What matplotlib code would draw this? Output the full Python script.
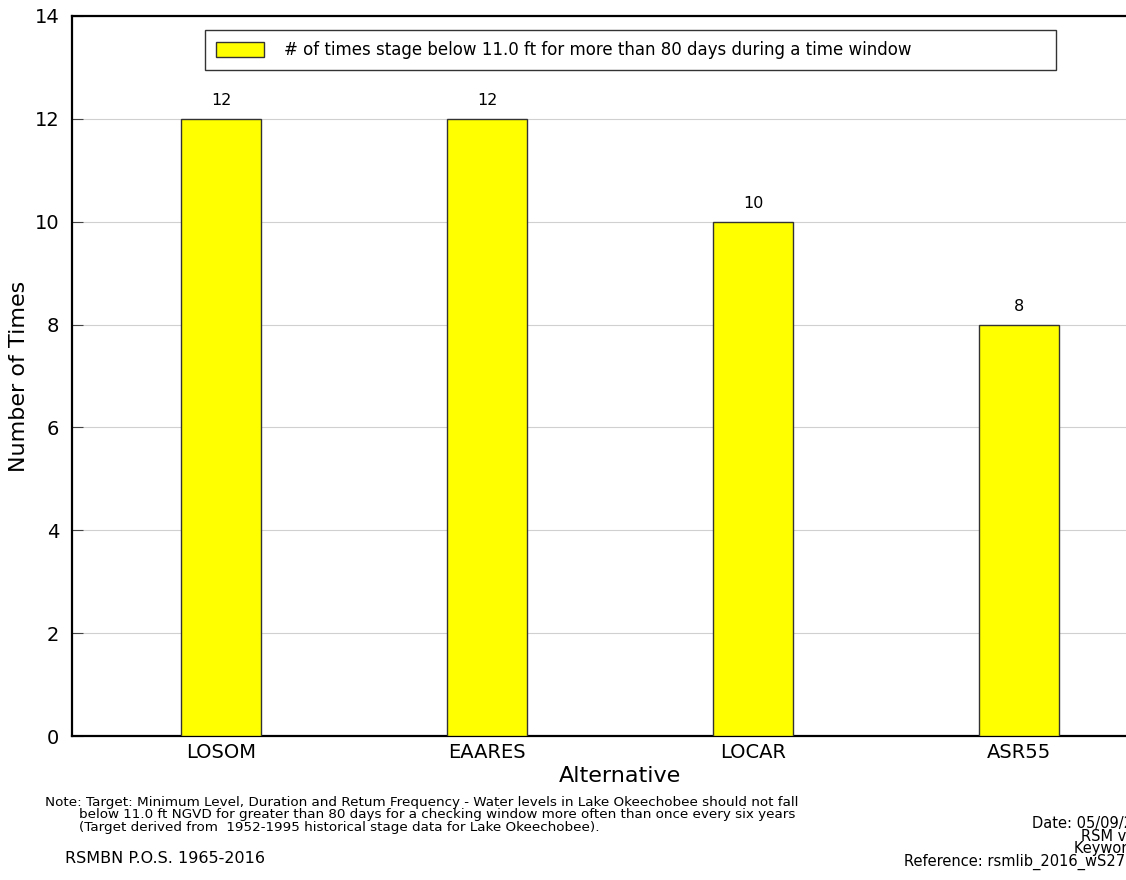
import matplotlib
matplotlib.use("Agg")
import matplotlib.pyplot as plt
import numpy as np

alternatives = ["LOSOM", "EAARES", "LOCAR", "ASR55"]
times_below = [12, 12, 10, 8]
y_ticks = [0, 2, 4, 6, 8, 10, 12, 14]

legend_label = "# of times stage below 11.0 ft for more than 80 days during a time window"
note_text = ("Note: Target: Minimum Level, Duration and Retum Frequency - Water levels in Lake Okeechobee should not fall\n"
             "        below 11.0 ft NGVD for greater than 80 days for a checking window more often than once every six years\n"
             "        (Target derived from  1952-1995 historical stage data for Lake Okeechobee).")
footer_right = "Date: 05/09/2019 14:23\nRSM v2.3.2-BN10\nKeyword: LOSOM1\nReference: rsmlib_2016_wS2713_LOK.dat"

W, H = 1126, 880
fig = plt.figure(figsize=(W / 100, H / 100), dpi=100)
# axes run past the right edge, like the cropped original
ax = fig.add_axes([72 / W, 1 - 736 / H, 1096 / W, 720 / H])

x = np.arange(len(alternatives))
bars = ax.bar(x, times_below, width=0.3, color="yellow", edgecolor="#333333",
              linewidth=1.0, label=legend_label, zorder=3)
ax.bar_label(bars, padding=7.5, fontsize=11.5)

ax.set_xlim(-0.56, 3.56)
ax.set_ylim(0, 14)
ax.set_yticks(y_ticks)
ax.set_xticks(x)
ax.set_xticklabels(alternatives)
ax.tick_params(axis="y", direction="in", length=8, color="#444444", labelsize=14, pad=9)
ax.tick_params(axis="x", length=0, labelsize=14, pad=5)
ax.yaxis.grid(True, color="#d0d0d0", linewidth=0.8, zorder=0)
ax.set_axisbelow(True)
for s in ax.spines.values():
    s.set_linewidth(1.6)

ax.set_ylabel("Number of Times", fontsize=16, labelpad=4)
ax.set_xlabel("Alternative", fontsize=16, labelpad=3)

leg = ax.legend(loc="lower left", bbox_to_anchor=(133 / 1096, 1 - 54 / 720, 851 / 1096, 40 / 720),
                mode="expand", borderaxespad=0, fontsize=12,
                fancybox=False, edgecolor="black", borderpad=0.65,
                handlelength=2.9, handleheight=1.0, handletextpad=1.2)
leg.get_frame().set_linewidth(1.0)

fig.text(45 / W, 1 - 796 / H, note_text, fontsize=9.7, va="top", linespacing=0.94)
fig.text(65 / W, 1 - 858 / H, "RSMBN P.O.S. 1965-2016", fontsize=11.5, va="center")
fig.text(1208 / W, 1 - 870 / H, footer_right, fontsize=10.5, ha="right", va="bottom",
         multialignment="right", linespacing=0.79)

fig.savefig("out.png", dpi=100)
